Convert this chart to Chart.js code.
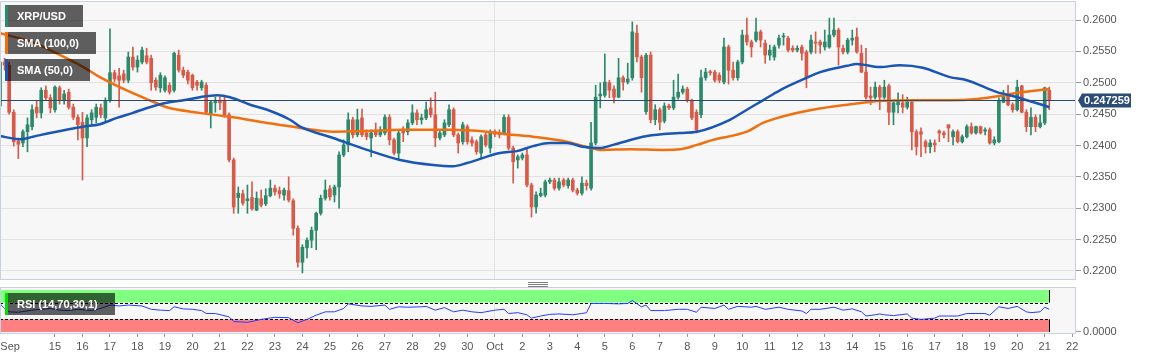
<!DOCTYPE html>
<html>
<head>
<meta charset="utf-8">
<script src="https://cdn.jsdelivr.net/npm/chart.js@4.4.0/dist/chart.umd.min.js"></script>
<style>
body{margin:0;background:#fff;width:1153px;height:359px;overflow:hidden;position:relative;font-family:"Liberation Sans",Arial,sans-serif}
canvas{position:absolute;left:0}
#main{top:0}
#rsi{top:284px}
.tag{position:absolute;left:5px;height:22px;line-height:22px;padding:0 17px 0 9px;background:rgba(0,0,0,.62);color:#fff;font-size:11px;font-weight:bold;border-left:3px solid;white-space:nowrap}
.grip{position:absolute;left:528px;top:282px;width:20px;height:3px;border-top:1px solid #808080;border-bottom:1px solid #808080}
.grip:after{content:"";position:absolute;left:0;right:0;top:1px;border-top:1px solid #808080}
</style>
</head>
<body>
<canvas id="main" width="1153" height="284"></canvas>
<canvas id="rsi" width="1153" height="75"></canvas>
<div class="grip"></div>
<div class="tag" style="top:5px;border-color:#2b8a6c">XRP/USD</div>
<div class="tag" style="top:32px;border-color:#f07010">SMA (100,0)</div>
<div class="tag" style="top:59px;border-color:#1a56b4">SMA (50,0)</div>
<div class="tag" style="top:293px;border-color:#00e000">RSI (14,70,30,1)</div>
<script>
// 4h candles, index 0 = Sep 13 00:00
const opens = [
.2463,.2533,.2528,.2453,.2407,.2404,.2422,.2430,.2461,.2452,
.2488,.2476,.2457,.2492,.2472,.2485,.2461,.2445,.2437,.2412,
.2441,.2445,.2460,.2444,.2472,.2516,.2511,.2514,.2504,.2541,
.2525,.2533,.2543,.2539,.2504,.2492,.2488,.2496,.2488,.2544,
.2520,.2517,.2512,.2501,.2492,.2496,.2449,.2468,.2472,.2472,
.2449,.2377,.2317,.2323,.2312,.2317,.2297,.2315,.2307,.2320,
.2332,.2328,.2321,.2328,.2312,.2268,.2214,.2237,.2249,.2265,
.2292,.2316,.2331,.2321,.2334,.2385,.2401,.2441,.2417,.2444,
.2420,.2412,.2422,.2417,.2420,.2445,.2409,.2388,.2425,.2422,
.2436,.2452,.2441,.2444,.2460,.2449,.2412,.2417,.2433,.2457,
.2417,.2406,.2430,.2409,.2406,.2388,.2417,.2396,.2422,.2418,
.2418,.2445,.2396,.2377,.2380,.2385,.2337,.2302,.2320,.2321,
.2342,.2345,.2332,.2345,.2336,.2345,.2329,.2324,.2340,.2332,
.2404,.2479,.2480,.2500,.2490,.2477,.2508,.2501,.2508,.2579,
.2541,.2454,.2544,.2441,.2457,.2439,.2463,.2460,.2477,.2485,
.2490,.2471,.2453,.2449,.2508,.2517,.2517,.2512,.2501,.2557,
.2520,.2508,.2533,.2576,.2565,.2568,.2581,.2563,.2544,.2541,
.2560,.2573,.2571,.2555,.2552,.2557,.2549,.2549,.2565,.2565,
.2557,.2557,.2576,.2584,.2555,.2549,.2568,.2573,.2547,.2517,
.2479,.2477,.2493,.2477,.2495,.2453,.2465,.2468,.2461,.2469,
.2422,.2422,.2406,.2398,.2404,.2423,.2420,.2433,.2414,.2422,
.2406,.2414,.2430,.2420,.2430,.2423,.2425,.2404,.2406,.2469,
.2480,.2465,.2457,.2495,.2453,.2430,.2445,.2430,.2436,.2488];
const highs = [
.2541,.2539,.2533,.2457,.2412,.2425,.2444,.2465,.2472,.2492,
.2495,.2481,.2495,.2495,.2488,.2490,.2466,.2449,.2453,.2449,
.2457,.2466,.2466,.2476,.2586,.2520,.2523,.2520,.2549,.2557,
.2543,.2557,.2555,.2544,.2508,.2516,.2511,.2500,.2549,.2552,
.2525,.2520,.2514,.2504,.2504,.2500,.2472,.2477,.2477,.2479,
.2452,.2380,.2334,.2329,.2337,.2342,.2326,.2329,.2331,.2345,
.2337,.2334,.2332,.2350,.2315,.2272,.2242,.2253,.2270,.2294,
.2321,.2345,.2336,.2337,.2390,.2409,.2452,.2445,.2458,.2458,
.2425,.2425,.2436,.2430,.2449,.2449,.2412,.2423,.2430,.2441,
.2465,.2457,.2450,.2469,.2476,.2485,.2425,.2441,.2465,.2460,
.2420,.2437,.2433,.2414,.2409,.2417,.2420,.2425,.2425,.2425,
.2449,.2449,.2399,.2385,.2388,.2396,.2340,.2326,.2332,.2345,
.2348,.2348,.2348,.2348,.2348,.2348,.2332,.2350,.2345,.2437,
.2496,.2500,.2546,.2504,.2495,.2539,.2511,.2531,.2597,.2592,
.2544,.2547,.2549,.2465,.2460,.2468,.2466,.2504,.2514,.2495,
.2493,.2474,.2457,.2520,.2523,.2520,.2520,.2516,.2571,.2560,
.2533,.2536,.2584,.2603,.2568,.2603,.2584,.2568,.2560,.2560,
.2576,.2579,.2574,.2559,.2559,.2560,.2552,.2576,.2581,.2568,
.2584,.2603,.2603,.2587,.2560,.2571,.2584,.2587,.2560,.2555,
.2493,.2501,.2496,.2504,.2498,.2472,.2484,.2481,.2477,.2472,
.2425,.2428,.2409,.2409,.2409,.2425,.2423,.2433,.2425,.2425,
.2417,.2433,.2436,.2431,.2431,.2428,.2428,.2414,.2476,.2488,
.2496,.2468,.2504,.2496,.2457,.2460,.2449,.2449,.2493,.2493];
const lows = [
.2460,.2520,.2450,.2399,.2379,.2398,.2390,.2425,.2444,.2444,
.2472,.2452,.2453,.2466,.2466,.2458,.2441,.2409,.2345,.2398,
.2433,.2436,.2444,.2438,.2469,.2501,.2461,.2500,.2500,.2520,
.2517,.2530,.2530,.2488,.2488,.2485,.2485,.2482,.2485,.2517,
.2508,.2498,.2488,.2488,.2488,.2449,.2428,.2453,.2457,.2445,
.2374,.2292,.2292,.2305,.2292,.2297,.2296,.2302,.2304,.2318,
.2321,.2316,.2313,.2310,.2257,.2206,.2197,.2221,.2237,.2234,
.2289,.2313,.2313,.2310,.2300,.2382,.2390,.2412,.2414,.2414,
.2409,.2382,.2414,.2414,.2417,.2401,.2385,.2377,.2406,.2417,
.2433,.2433,.2434,.2441,.2445,.2398,.2409,.2414,.2430,.2414,
.2388,.2402,.2402,.2399,.2386,.2380,.2398,.2388,.2414,.2412,
.2417,.2393,.2340,.2364,.2377,.2334,.2286,.2292,.2318,.2318,
.2339,.2329,.2329,.2334,.2332,.2326,.2321,.2321,.2329,.2329,
.2401,.2460,.2477,.2476,.2468,.2476,.2488,.2498,.2504,.2533,
.2485,.2450,.2436,.2433,.2425,.2436,.2457,.2457,.2474,.2482,
.2469,.2441,.2420,.2444,.2504,.2512,.2501,.2500,.2498,.2498,
.2504,.2504,.2530,.2560,.2541,.2565,.2557,.2531,.2536,.2536,
.2555,.2560,.2549,.2549,.2549,.2536,.2492,.2546,.2547,.2547,
.2552,.2555,.2573,.2528,.2546,.2546,.2560,.2547,.2516,.2474,
.2465,.2474,.2457,.2474,.2433,.2433,.2452,.2452,.2458,.2393,
.2385,.2382,.2388,.2388,.2390,.2406,.2412,.2406,.2401,.2404,
.2404,.2412,.2418,.2418,.2418,.2417,.2402,.2401,.2404,.2468,
.2463,.2453,.2455,.2452,.2422,.2417,.2422,.2428,.2433,.2457];
const closes = [
.2533,.2528,.2453,.2406,.2402,.2422,.2433,.2457,.2452,.2488,
.2476,.2460,.2493,.2472,.2482,.2461,.2445,.2433,.2412,.2444,
.2452,.2461,.2449,.2472,.2516,.2506,.2504,.2504,.2541,.2525,
.2536,.2552,.2533,.2500,.2493,.2512,.2508,.2485,.2547,.2520,
.2512,.2504,.2492,.2496,.2501,.2453,.2469,.2472,.2468,.2449,
.2377,.2302,.2324,.2308,.2315,.2299,.2316,.2305,.2320,.2332,
.2326,.2323,.2329,.2313,.2268,.2214,.2238,.2249,.2265,.2292,
.2316,.2329,.2318,.2334,.2385,.2401,.2441,.2417,.2441,.2417,
.2414,.2420,.2417,.2425,.2445,.2409,.2388,.2420,.2420,.2436,
.2452,.2441,.2444,.2457,.2449,.2412,.2420,.2436,.2457,.2417,
.2404,.2433,.2406,.2404,.2390,.2414,.2401,.2420,.2418,.2417,
.2445,.2396,.2374,.2382,.2385,.2337,.2302,.2321,.2324,.2342,
.2345,.2332,.2342,.2337,.2345,.2329,.2324,.2340,.2336,.2404,
.2477,.2482,.2501,.2488,.2477,.2508,.2501,.2506,.2581,.2541,
.2508,.2544,.2441,.2457,.2437,.2463,.2460,.2477,.2485,.2490,
.2472,.2444,.2425,.2508,.2517,.2516,.2504,.2504,.2557,.2520,
.2508,.2533,.2576,.2565,.2557,.2581,.2568,.2544,.2552,.2557,
.2571,.2574,.2552,.2552,.2555,.2547,.2508,.2568,.2563,.2560,
.2565,.2576,.2584,.2557,.2549,.2568,.2571,.2549,.2517,.2477,
.2476,.2493,.2477,.2493,.2453,.2468,.2472,.2461,.2469,.2422,
.2398,.2418,.2398,.2404,.2401,.2420,.2417,.2428,.2422,.2406,
.2414,.2430,.2420,.2430,.2420,.2425,.2404,.2409,.2472,.2480,
.2465,.2457,.2493,.2453,.2430,.2445,.2430,.2436,.2492,.247259];

const sma100At  = [0,7.3,10.9,14.6,18.2,21.8,27.3,32.7,36.4,43.6,50.9,58.3,65.5,72.7,80,87.3,98.2,106.3,110.6,116.3,123.7,128.8,131,137.5,144.7,148.4,152.1,155.6,163,166.5,170.2,177.4,184.9,192,200,207.3,213.2,218.2,222,229];
const sma100Val = [.2579,.2564,.2552,.2539,.2525,.2509,.2489,.2472,.2461,.2452,.2445,.2436,.2428,.2422,.2423,.2425,.2425,.2422,.2418,.2414,.2406,.2396,.2393,.2394,.2393,.2394,.2401,.2409,.2422,.2436,.2445,.2457,.2465,.2471,.2472,.2472,.2474,.2479,.2484,.2490];
const sma50At  = [0,4.4,7.2,10.9,18.1,21.8,25.5,29,32.7,36.4,40,43.6,47.4,50.2,54.6,58.3,63.3,65.5,72.7,80.1,87.3,94.5,98.9,101.9,109.1,112.8,116.3,120,123.7,127.2,131,133.8,141.2,148.4,152.1,159.3,163,166.5,170.2,176.1,179,184.9,187,192,196.4,201.4,207.3,211,217.6,222,229];
const sma50Val = [.2415,.2410,.2414,.2420,.2430,.2434,.2444,.2452,.2461,.2468,.2472,.2477,.2480,.2477,.2465,.2457,.2441,.2430,.2412,.2393,.2377,.2369,.2367,.2372,.2388,.2391,.2399,.2404,.2404,.2398,.2396,.2401,.2415,.2420,.2422,.2441,.2457,.2472,.2488,.2508,.2517,.2527,.2530,.2525,.2528,.2524,.2509,.2504,.2485,.2477,.2461];

const rsiAt = [0,1,2,4,7,9,11,13,15,17,20,22,24,26,28,31,33,35,37,38,40,42,44,45,47,50,51,54,55,57,60,63,65,67,69,71,73,75,76,79,81,84,85,87,89,92,93,95,97,99,101,103,105,106,108,110,111,113,115,116,118,120,122,125,127,128,129,132,135,137,138,140,141,142,145,148,150,152,153,156,158,159,161,164,165,167,170,172,175,176,177,179,182,184,186,188,189,191,192,193,195,198,199,201,204,205,207,209,211,213,215,216,218,220,222,224,225,227,228,229];
const rsiVal = [67,56,48,47,52,54,56,52,51,54,51,56,64,62,64,62,54,52,51,60,55,54,51,44,44,36,25,23,25,30,35,34,22,30,40,48,48,56,67,62,61,64,54,60,59,60,61,52,58,48,52,48,46,48,52,54,44,46,41,33,38,42,43,41,44,46,68,68,67,68,75,60,64,51,51,54,54,47,59,56,64,54,61,59,61,54,59,54,50,44,54,54,59,52,55,48,38,41,43,41,39,43,33,30,33,38,38,38,44,44,44,40,60,56,61,48,46,48,59,54];

const dayTickAt = [2.2,12,18,24,30,36,42,48,54,60,66,72,78,84,90,96,102,108,114,120,126,132,138,144,150,156,162,168,174,180,186,192,198,204,210,216,222,228,234];
const dayTickLbl = ['Sep','15','16','17','18','19','20','21','22','23','24','25','26','27','28','29','30','Oct','2','3','4','5','6','7','8','9','10','11','12','13','14','15','16','17','18','19','20','21','22'];
const priceTicks = [0.22,0.225,0.23,0.235,0.24,0.245,0.25,0.255,0.26];
const monthLineAt = 108;

Chart.defaults.font.family = '"Liberation Sans", Arial, sans-serif';
Chart.defaults.font.size = 11;
Chart.defaults.color = '#555';

const X_MAX = 234.83;
const idx = closes.map((c, i) => i);
const colr = idx.map(i => closes[i] >= opens[i] ? '#2b8a6c' : '#d85a48');

const frame = {
  id: 'frame',
  beforeDraw(chart) {
    const {ctx, chartArea: a} = chart;
    ctx.save();
    ctx.fillStyle = '#f7f7f7';
    ctx.fillRect(a.left, a.top, a.right - a.left, a.bottom - a.top);
    ctx.restore();
  },
  afterDraw(chart) {
    const {ctx, chartArea: a} = chart;
    ctx.save();
    ctx.strokeStyle = '#c9d1e0';
    ctx.lineWidth = 1;
    ctx.strokeRect(a.left + 0.5, a.top + 0.5, a.right - a.left - 1, a.bottom - a.top);
    ctx.restore();
  }
};

const lastPrice = {
  id: 'lastPrice',
  afterDatasetsDraw(chart) {
    const {ctx, chartArea: a, scales: {y}} = chart;
    const v = closes[closes.length - 1];
    const py = Math.round(y.getPixelForValue(v)) + 0.5;
    ctx.save();
    ctx.strokeStyle = '#2a4a73';
    ctx.lineWidth = 1;
    ctx.beginPath(); ctx.moveTo(a.left, py); ctx.lineTo(a.right, py); ctx.stroke();
    const r = a.right;
    ctx.fillStyle = '#2b4c74';
    ctx.beginPath();
    ctx.moveTo(r + 2, py);
    ctx.lineTo(r + 6, py - 7);
    ctx.lineTo(r + 55, py - 7);
    ctx.lineTo(r + 55, py + 7);
    ctx.lineTo(r + 6, py + 7);
    ctx.closePath();
    ctx.fill();
    ctx.fillStyle = '#fff';
    ctx.font = 'bold 11px "Liberation Sans", Arial, sans-serif';
    ctx.textAlign = 'center';
    ctx.textBaseline = 'middle';
    ctx.fillText(v.toFixed(6), r + 31, py + 0.5);
    ctx.restore();
  }
};

new Chart(document.getElementById('main'), {
  type: 'bar',
  data: {
    datasets: [
      { type: 'line', data: sma50At.map((x, k) => ({x, y: sma50Val[k]})), borderColor: '#1a56b4', borderWidth: 2.5,
        pointRadius: 0, cubicInterpolationMode: 'monotone', order: 0 },
      { type: 'line', data: sma100At.map((x, k) => ({x, y: sma100Val[k]})), borderColor: '#f07010', borderWidth: 2.5,
        pointRadius: 0, cubicInterpolationMode: 'monotone', order: 1 },
      { data: idx.map(i => ({x: i, y: [opens[i], closes[i]]})), backgroundColor: colr, barThickness: 3,
        minBarLength: 1, grouped: false, order: 2 },
      { data: idx.map(i => ({x: i, y: [lows[i], highs[i]]})), backgroundColor: colr, barThickness: 1,
        grouped: false, order: 3 }
    ]
  },
  options: {
    responsive: false,
    animation: false,
    layout: { padding: { top: 1, bottom: 5, left: 0, right: 0 } },
    plugins: { legend: { display: false }, tooltip: { enabled: false } },
    scales: {
      x: {
        type: 'linear', min: 0, max: X_MAX, offset: false,
        afterBuildTicks: s => { s.ticks = [{value: monthLineAt}]; },
        ticks: { display: false },
        grid: { color: '#e4e4e4', drawTicks: false, offset: false },
        border: { display: false },
        afterFit: s => { s.height = 0; s.paddingLeft = 0; s.paddingRight = 0; }
      },
      y: {
        position: 'right', min: 0.218725, max: 0.263028,
        afterBuildTicks: s => { s.ticks = priceTicks.map(v => ({value: v})); },
        ticks: { callback: v => v.toFixed(4), padding: 2, color: '#555' },
        grid: { color: '#e2e2e2', tickColor: '#999', tickLength: 5 },
        border: { display: false },
        afterFit: s => { s.width = 77; s.paddingTop = 0; s.paddingBottom = 0; }
      }
    }
  },
  plugins: [frame, lastPrice]
});

const bands = {
  id: 'bands',
  beforeDatasetsDraw(chart) {
    const {ctx, chartArea: a, scales: {x, y}} = chart;
    const x0 = a.left, x1 = Math.round(x.getPixelForValue(closes.length - 1)) + 0.5;
    ctx.save();
    [[100, 70, '#80ff80', 70], [30, 0, '#ff8080', 30]].forEach(([t, b, c, dash]) => {
      const yt = y.getPixelForValue(t), yb = y.getPixelForValue(b);
      ctx.fillStyle = c;
      ctx.fillRect(x0, yt, x1 - x0, yb - yt);
      ctx.strokeStyle = '#000';
      ctx.lineWidth = 1;
      ctx.setLineDash([]);
      ctx.beginPath(); ctx.moveTo(x1, yt); ctx.lineTo(x1, yb); ctx.stroke();
      const yd = Math.round(y.getPixelForValue(dash)) + 0.5;
      ctx.setLineDash([3, 2]);
      ctx.beginPath(); ctx.moveTo(x0, yd); ctx.lineTo(x1, yd); ctx.stroke();
    });
    ctx.restore();
  }
};

new Chart(document.getElementById('rsi'), {
  type: 'line',
  data: {
    datasets: [
      { data: rsiAt.map((x, k) => ({x, y: rsiVal[k]})), borderColor: '#2a3cff', borderWidth: 1, pointRadius: 0, tension: 0 }
    ]
  },
  options: {
    responsive: false,
    animation: false,
    layout: { padding: { top: 3, bottom: 0, left: 0, right: 0 } },
    plugins: { legend: { display: false }, tooltip: { enabled: false } },
    scales: {
      x: {
        type: 'linear', min: 0, max: X_MAX,
        afterBuildTicks: s => { s.ticks = dayTickAt.map(v => ({value: v})); },
        ticks: { callback: (v, k) => dayTickLbl[k], autoSkip: false, maxRotation: 0, padding: 3, color: '#555' },
        grid: {
          color: c => (c.tick && c.tick.value === monthLineAt) ? '#e4e4e4' : 'rgba(0,0,0,0)',
          tickColor: c => (c.tick && c.tick.value === dayTickAt[0]) ? 'rgba(0,0,0,0)' : '#999',
          tickLength: 4
        },
        border: { display: false },
        afterFit: s => { s.height = 26; s.paddingLeft = 0; s.paddingRight = 0; }
      },
      y: {
        position: 'right', min: -2.4, max: 107.1,
        afterBuildTicks: s => { s.ticks = [{value: 0}]; },
        ticks: { callback: v => v.toFixed(4), padding: 2, color: '#555' },
        grid: { drawOnChartArea: false, tickColor: '#999', tickLength: 5 },
        border: { display: false },
        afterFit: s => { s.width = 77; s.paddingTop = 0; s.paddingBottom = 0; }
      }
    }
  },
  plugins: [frame, bands]
});
</script>
</body>
</html>
